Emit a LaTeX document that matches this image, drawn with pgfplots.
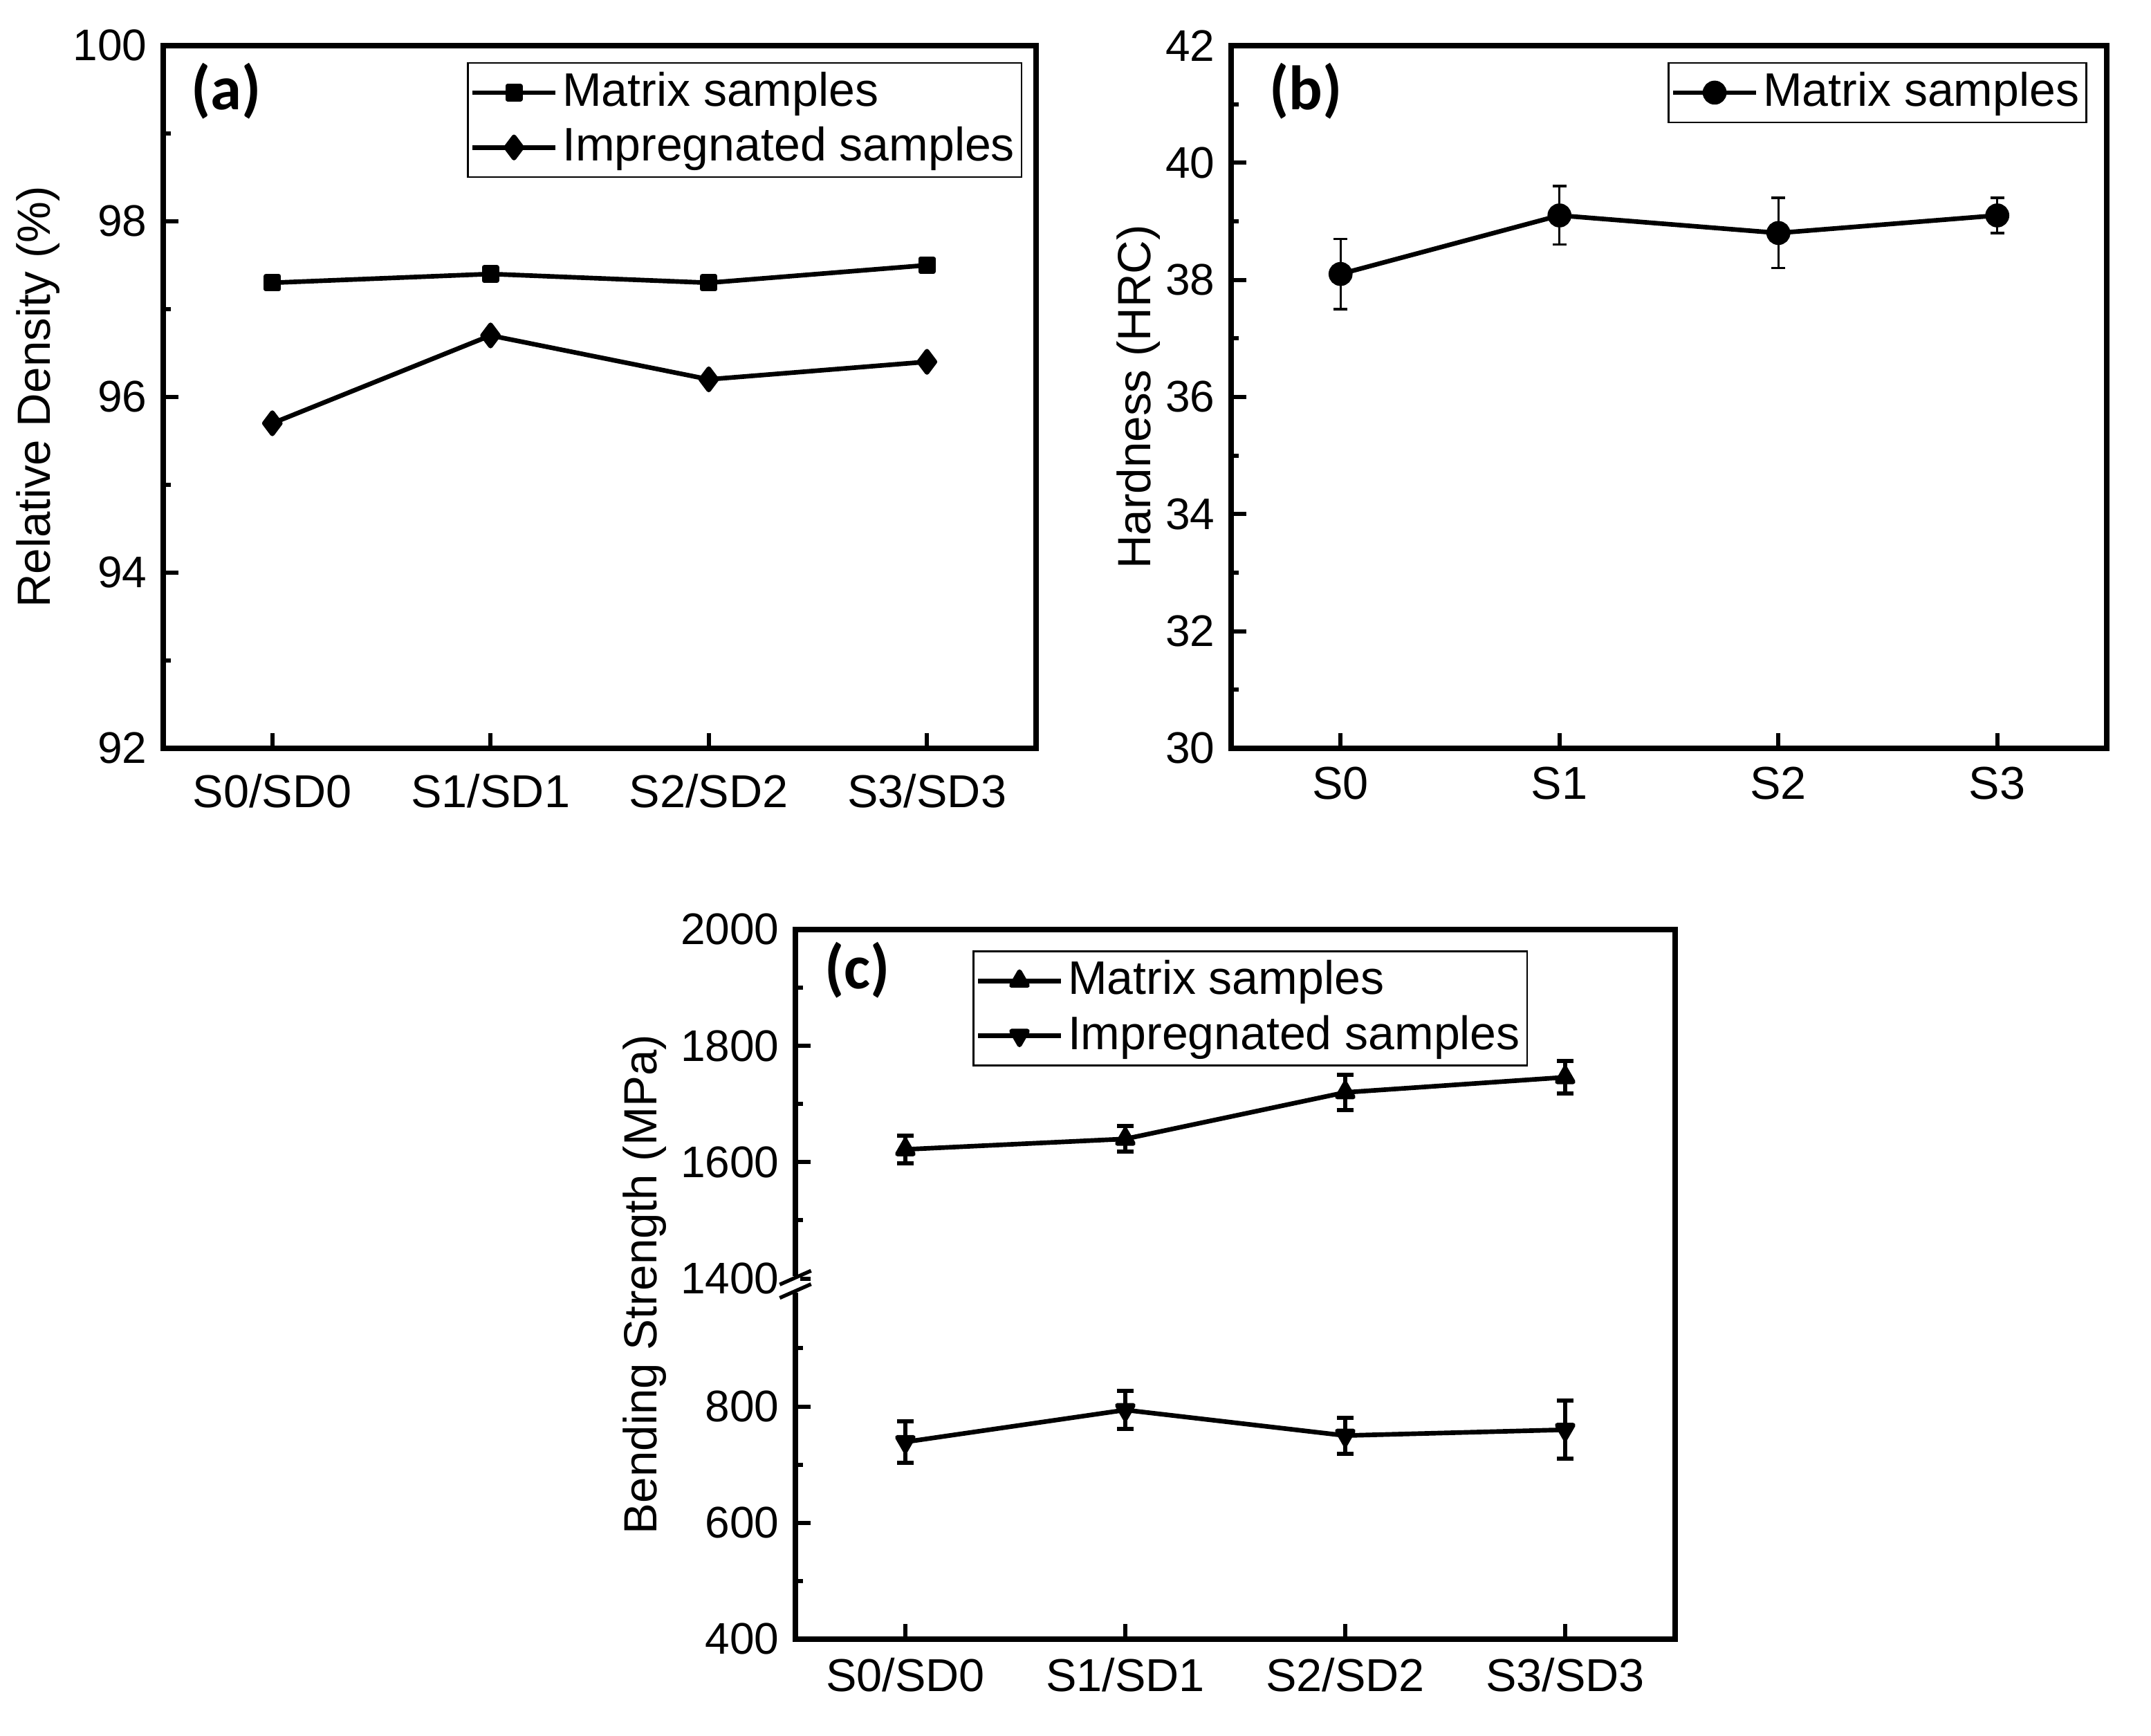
\documentclass[border=0pt]{standalone}
\usepackage{pgfplots}
\pgfplotsset{compat=1.18}
\usepackage{fontspec}
\setmainfont{Liberation Sans}
\newfontfamily\panelfont{Carlito}

\pgfplotsset{
  base/.style={
    scale only axis,
    anchor=north west,
    enlargelimits=false,
    axis line style={line width=1.1pt},
    tick style={line width=0.9pt, black},
    major tick length=3.3pt,
    minor tick length=1.7pt,
    tick align=inside,
    xtick pos=left, ytick pos=left,
    /pgf/number format/assume math mode=true,
    xticklabel style={font=\fontsize{10}{12}\selectfont, yshift=-0.5pt},
    yticklabel style={font=\fontsize{9.6}{11.5}\selectfont},
    ylabel style={font=\fontsize{10.1}{12}\selectfont, anchor=center},
    xmin=-0.5, xmax=3.5, xtick={0,1,2,3},
    legend cell align=left,
    legend style={anchor=north west, draw=black, line width=0.4pt, fill=white,
      inner xsep=0.5pt, inner ysep=0.5pt,
      font=\fontsize{10.2}{12}\selectfont,
      nodes={inner xsep=1pt, inner ysep=1.5pt},
      cells={anchor=west}},
    legend image code/.code={\draw[mark repeat=2,mark phase=2,#1] plot coordinates {(0pt,0pt) (9pt,0pt) (18pt,0pt)};},
  },
  pl/.style={black, line width=1pt, line join=round},
}

\begin{document}
\begin{tikzpicture}
\useasboundingbox (0,0) rectangle (466.5pt,376.5pt);

% (a)
\begin{axis}[base, at={(35.4pt,366.6pt)}, width=189.3pt, height=152.4pt,
  ymin=92, ymax=100, ytick={92,94,96,98,100}, minor y tick num=1,
  xticklabels={S0/SD0,S1/SD1,S2/SD2,S3/SD3},
  xticklabel style={yshift=-1.5pt},
  ylabel={Relative Density (\%)},
  ylabel style={at={(axis description cs:-0.143,0.5)}},
  legend style={at={(0.348,0.9767)}}]
\addplot[pl, mark=square*, mark size=1.4pt] coordinates {(0,97.3) (1,97.4) (2,97.3) (3,97.5)};
\addlegendentry{Matrix samples}
\addplot[pl, mark=diamond*, mark size=2.3pt] coordinates {(0,95.7) (1,96.7) (2,96.2) (3,96.4)};
\addlegendentry{Impregnated samples}
\node[font={\panelfont\bfseries\fontsize{13.6}{15}\selectfont}] at (rel axis cs:0.072,0.935) {(a)};
\end{axis}

% (b)
\begin{axis}[base, at={(267pt,366.6pt)}, width=189.9pt, height=152.4pt,
  ymin=30, ymax=42, ytick={30,32,34,36,38,40,42}, minor y tick num=1,
  xticklabels={S0,S1,S2,S3},
  ylabel={Hardness (HRC)},
  ylabel style={at={(axis description cs:-0.106,0.5)}},
  legend style={at={(0.4985,0.9767)}}]
\addplot[pl, mark=*, mark size=2.1pt,
  error bars/.cd, y dir=both, y explicit,
  error bar style={line width=0.5pt},
  error mark options={line width=0.5pt, mark size=1.5pt, rotate=90}]
  coordinates {(0,38.1) +- (0,0.6) (1,39.1) +- (0,0.5) (2,38.8) +- (0,0.6) (3,39.1) +- (0,0.3)};
\addlegendentry{Matrix samples}
\node[font={\panelfont\bfseries\fontsize{13.6}{15}\selectfont}] at (rel axis cs:0.085,0.935) {(b)};
\end{axis}

% (c)  broken axis: lower part 400-1010 as is, upper part 1400-2000 shifted down by 380
\begin{axis}[base, at={(172.5pt,174.9pt)}, width=190.8pt, height=153.9pt,
  ymin=400, ymax=1620,
  ytick={400,600,800,1020,1220,1420,1620},
  yticklabels={400,600,800,1400,1600,1800,2000},
  minor ytick={500,700,900,1120,1320,1520},
  xticklabels={S0/SD0,S1/SD1,S2/SD2,S3/SD3},
  ylabel={Bending Strength (MPa)},
  ylabel style={at={(axis description cs:-0.1714,0.5)}},
  legend style={at={(0.2013,0.9708)}}]
\addplot[pl, mark=triangle*, mark size=2pt,
  error bars/.cd, y dir=both, y explicit,
  error bar style={line width=0.9pt},
  error mark options={line width=0.9pt, mark size=1.8pt, rotate=90}]
  coordinates {(0,1242) +- (0,24) (1,1260) +- (0,22) (2,1340) +- (0,30) (3,1366) +- (0,28)};
\addlegendentry{Matrix samples}
\addplot[pl, mark=triangle*, mark size=2pt, mark options={rotate=180},
  error bars/.cd, y dir=both, y explicit,
  error bar style={line width=0.9pt},
  error mark options={line width=0.9pt, mark size=1.8pt, rotate=90}]
  coordinates {(0,739) +- (0,36) (1,794) +- (0,33) (2,750) +- (0,31) (3,760) +- (0,50)};
\addlegendentry{Impregnated samples}
\node[font={\panelfont\bfseries\fontsize{13.6}{15}\selectfont}] at (rel axis cs:0.0703,0.943) {(c)};
\coordinate (brk) at (axis cs:-0.5,1010);
\end{axis}
\fill[white] ([xshift=-1pt,yshift=-1.8pt]brk) rectangle ([xshift=1pt,yshift=1.8pt]brk);
\draw[line width=0.8pt] ([xshift=-3.4pt,yshift=-0.05pt]brk) -- ([xshift=3.4pt,yshift=2.95pt]brk);
\draw[line width=0.8pt] ([xshift=-3.4pt,yshift=-2.95pt]brk) -- ([xshift=3.4pt,yshift=0.05pt]brk);
\end{tikzpicture}
\end{document}
